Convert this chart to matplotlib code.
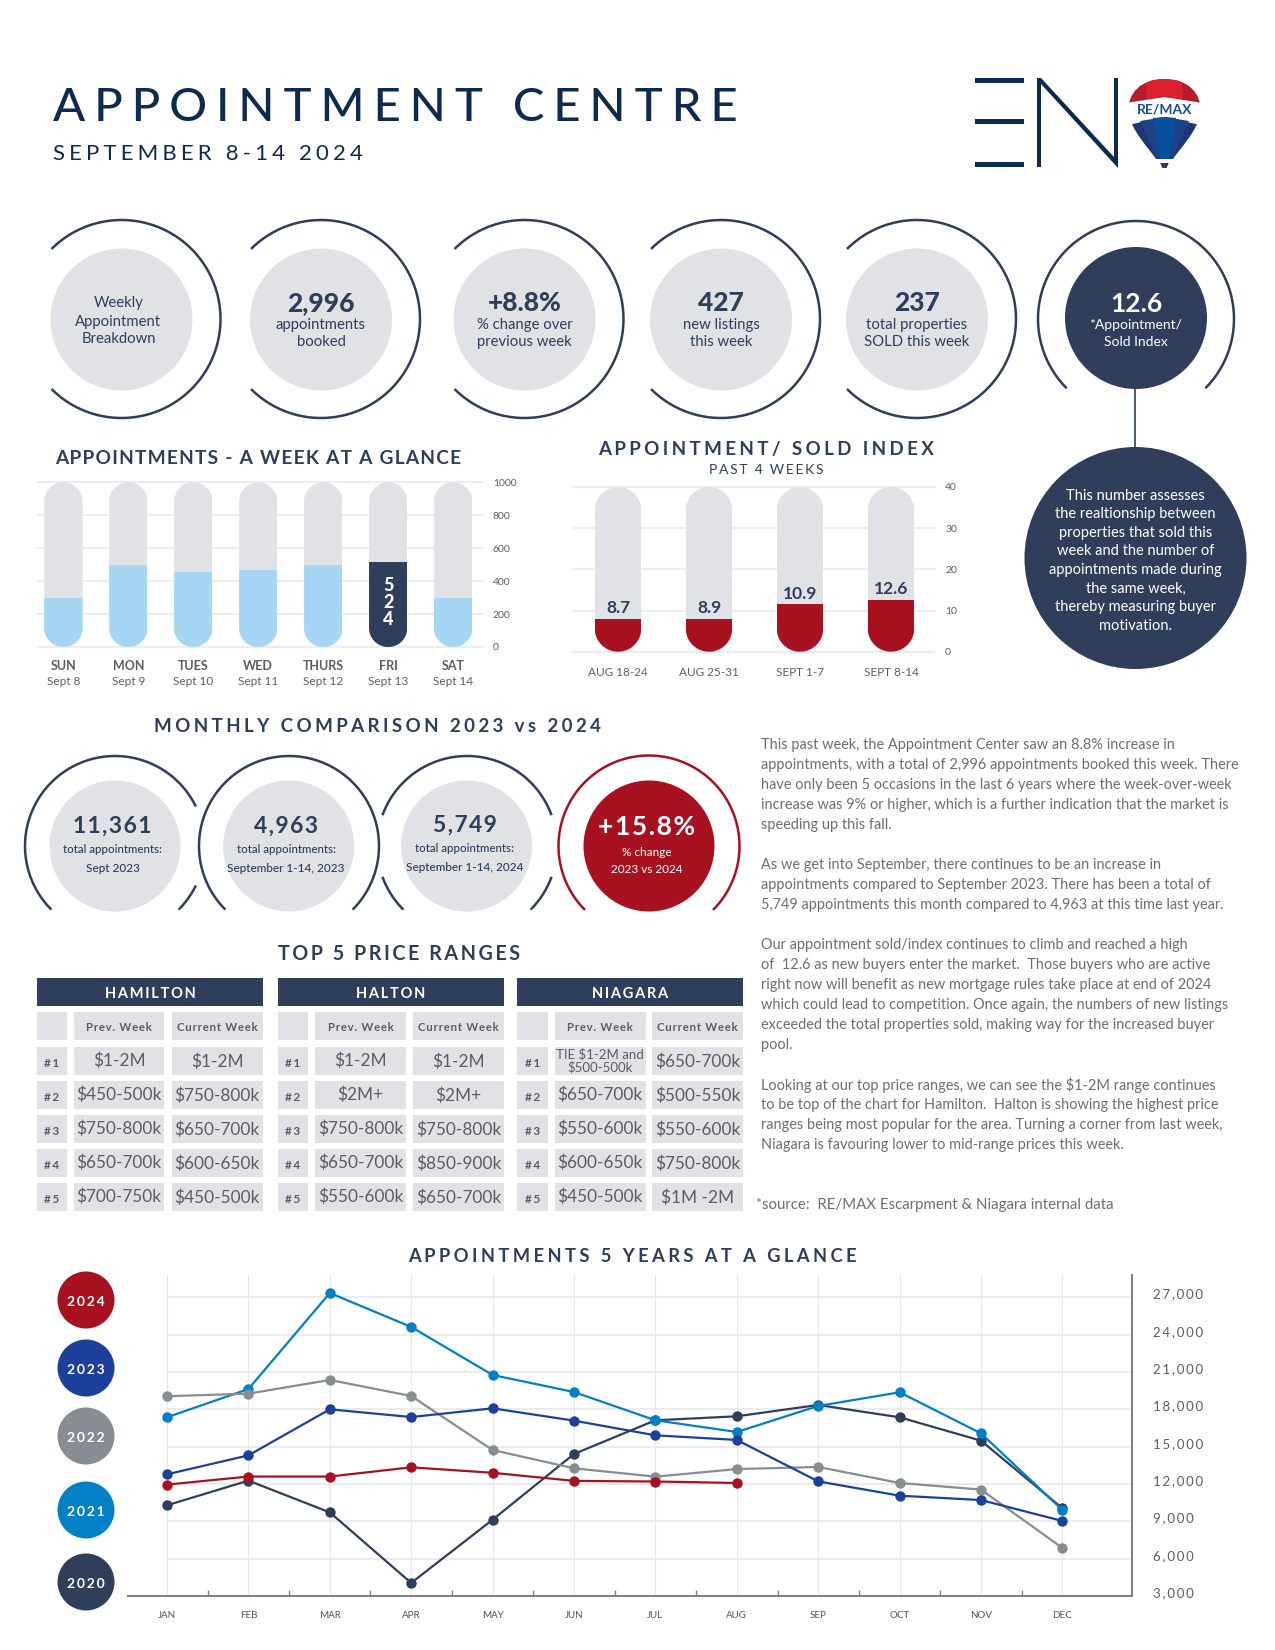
import matplotlib
matplotlib.use("Agg")
import matplotlib.pyplot as plt
import numpy as np
from matplotlib.patches import Circle, Rectangle, PathPatch, Polygon
from matplotlib.path import Path
from matplotlib.transforms import ScaledTranslation

plt.rcParams["font.family"] = ["Lato", "DejaVu Sans"]

W, H = 1275, 1650
DARK = "#2e3e5b"
NAVY = "#0e2a4f"
GREY = "#e1e2e6"
RED = "#a81220"
SKY = "#a5d7f4"
TXT = "#595e66"
BODY = "#6d6e71"
HAIR = "\u200a"

# DATA
week_days = ["SUN", "MON", "TUES", "WED", "THURS", "FRI", "SAT"]
week_dates = ["Sept 8", "Sept 9", "Sept 10", "Sept 11", "Sept 12", "Sept 13", "Sept 14"]
week_values = [295, 499, 455, 469, 499, 515, 295]

index_weeks = ["AUG 18-24", "AUG 25-31", "SEPT 1-7", "SEPT 8-14"]
index_heights = [8.0, 8.0, 11.5, 12.5]
index_labels = ["8.7", "8.9", "10.9", "12.6"]

months = ["JAN", "FEB", "MAR", "APR", "MAY", "JUN", "JUL", "AUG", "SEP", "OCT", "NOV", "DEC"]
y2020 = [10290, 12270, 9720, 4050, 9130, 14410, 17120, 17440, 18350, 17360, 15480, 10050]
y2021 = [17360, 19630, 27350, 24620, 20760, 19390, 17120, 16180, 18270, 19370, 16070, 9910]
y2022 = [19050, 19260, 20360, 19070, 14730, 13260, 12590, 13200, 13370, 12080, 11550, 6860]
y2023 = [12780, 14300, 18000, 17380, 18080, 17090, 15910, 15540, 12210, 11060, 10710, 9030]
y2024 = [11950, 12600, 12600, 13340, 12900, 12250, 12200, 12080]
year_ticks = [3000, 6000, 9000, 12000, 15000, 18000, 21000, 24000, 27000]

col_heads = ["Prev. Week", "Current Week"]
hamilton_prev = ["$1-2M", "$450-500k", "$750-800k", "$650-700k", "$700-750k"]
hamilton_curr = ["$1-2M", "$750-800k", "$650-700k", "$600-650k", "$450-500k"]
halton_prev = ["$1-2M", "$2M+", "$750-800k", "$650-700k", "$550-600k"]
halton_curr = ["$1-2M", "$2M+", "$750-800k", "$850-900k", "$650-700k"]
niagara_prev = ["TIE $1-2M and\n$500-500k", "$650-700k", "$550-600k", "$600-650k", "$450-500k"]
niagara_curr = ["$650-700k", "$500-550k", "$550-600k", "$750-800k", "$1M -2M"]

body_lines = [
    "This past week, the Appointment Center saw an 8.8% increase in",
    "appointments, with a total of 2,996 appointments booked this week. There",
    "have only been 5 occasions in the last 6 years where the week-over-week",
    "increase was 9% or higher, which is a further indication that the market is",
    "speeding up this fall.",
    "",
    "As we get into September, there continues to be an increase in",
    "appointments compared to September 2023. There has been a total of",
    "5,749 appointments this month compared to 4,963 at this time last year.",
    "",
    "Our appointment sold/index continues to climb and reached a high",
    "of  12.6 as new buyers enter the market.  Those buyers who are active",
    "right now will benefit as new mortgage rules take place at end of 2024",
    "which could lead to competition. Once again, the numbers of new listings",
    "exceeded the total properties sold, making way for the increased buyer",
    "pool.",
    "",
    "Looking at our top price ranges, we can see the $1-2M range continues",
    "to be top of the chart for Hamilton.  Halton is showing the highest price",
    "ranges being most popular for the area. Turning a corner from last week,",
    "Niagara is favouring lower to mid-range prices this week.",
]

info_lines = [
    "This number assesses", "the realtionship between", "properties that sold this",
    "week and the number of", "appointments made during", "the same week,",
    "thereby measuring buyer", "motivation.",
]

fig = plt.figure(figsize=(W / 100, H / 100), dpi=100, facecolor="white")
page = fig.add_axes([0, 0, 1, 1], zorder=0)
page.set_xlim(0, W)
page.set_ylim(H, 0)
page.axis("off")


def px_axes(left, top, right, bottom):
    ax = fig.add_axes([left / W, 1 - bottom / H, (right - left) / W, (bottom - top) / H], zorder=2)
    ax.patch.set_alpha(0)
    for s in ax.spines.values():
        s.set_visible(False)
    return ax


def sp(s, n=1):
    return (HAIR * n).join(s)


def label(x, y, s, size=10, color=DARK, weight="normal", ha="center"):
    page.text(x, y + 0.12 * size, s, fontsize=size, color=color, weight=weight, ha=ha, va="center")


def arc(cx, cy, r, a1, a2, color=DARK):
    t = np.radians(np.linspace(a1, a2, 200))
    page.plot(cx + r * np.cos(t), cy - r * np.sin(t), color=color, lw=1.8, solid_capstyle="butt")


def disc(cx, cy, r, color=GREY):
    page.add_patch(Circle((cx, cy), r, color=color, lw=0))


def pill(x, w, h, ry):
    t = np.linspace(0, np.pi, 40)
    top = np.column_stack([x + w / 2 * np.cos(t), h - ry + ry * np.sin(t)])
    bot = np.column_stack([x - w / 2 * np.cos(t), ry - ry * np.sin(t)])
    return Path(np.vstack([top, bot, top[:1]]))


# HEADER
label(53, 104, sp("APPOINTMENT CENTRE", 3), 34, NAVY, "medium", "left")
label(53, 152.5, sp("SEPTEMBER 8-14 2024", 3), 16, NAVY, "normal", "left")

# LOGO
for top in (78, 119, 162):
    page.add_patch(Rectangle((975, top), 49, 5, color=NAVY, lw=0))
page.add_patch(Polygon([(1037, 78), (1041, 78), (1114, 157), (1114, 78), (1118, 78), (1118, 168),
                        (1041, 84), (1041, 167), (1037, 167)], color=NAVY, lw=0))


def bx(pts):
    # balloon drawn around 1163, moved and widened a little to sit on the reference
    return [(1164.5 + (px - 1163) * 1.06, py) for px, py in pts]


balloon = Path(bx([(1163, 79), (1185, 79), (1198, 93), (1197, 112), (1195, 130), (1178, 148), (1171, 159),
                   (1155, 159), (1148, 148), (1131, 130), (1129, 112), (1128, 93), (1141, 79), (1163, 79), (1163, 79)]),
               [Path.MOVETO, Path.CURVE4, Path.CURVE4, Path.CURVE4, Path.CURVE4, Path.CURVE4, Path.CURVE4,
                Path.LINETO, Path.CURVE4, Path.CURVE4, Path.CURVE4, Path.CURVE4, Path.CURVE4, Path.CURVE4,
                Path.CLOSEPOLY])
clip = PathPatch(balloon, fc="white", ec="none")
page.add_patch(clip)
for pts, col in [
    ([(1120, 75), (1205, 75), (1205, 104), (1163, 97), (1120, 104)], "#b71c2c"),
    ([(1146, 75), (1180, 75), (1180, 99), (1163, 97), (1146, 99)], "#dc1f2e"),
    ([(1120, 127), (1163, 117), (1205, 127), (1205, 165), (1120, 165)], "#1f3576"),
    ([(1140, 121), (1163, 117), (1186, 121), (1170, 160), (1156, 160)], "#1c4288"),
    ([(1152, 118), (1163, 117), (1174, 118), (1167, 160), (1159, 160)], "#0a509f"),
]:
    p = Polygon(bx(pts), color=col, lw=0)
    page.add_patch(p)
    p.set_clip_path(clip)
label(1164.5, 108, "RE/MAX", 10, "#13509c", "bold")
page.add_patch(Polygon(bx([(1159, 163), (1167, 163), (1165, 168), (1161, 168)]), color=DARK, lw=0))

# TOP CIRCLES
for cx, head, l1, l2 in [
    (321, "2,996", "appointments", "booked"),
    (524.5, "+8.8%", "% change over", "previous week"),
    (721, "427", "new listings", "this week"),
    (917, "237", "total properties", "SOLD this week"),
]:
    arc(cx, 319, 99, -135, 135)
    disc(cx, 319.5, 71)
    label(cx, 301, head, 19, DARK, "black")
    label(cx, 324, l1, 10.7, DARK)
    label(cx, 341, l2, 10.7, DARK)
arc(121.5, 319, 99, -135, 135)
disc(121.5, 319.5, 71)
for y, s in zip((302, 321, 338), ("Weekly", "Appointment", "Breakdown")):
    label(118.5, y, s, 10.7, DARK)
arc(1136, 319, 98, -45, 225)
disc(1136, 318, 71, DARK)
label(1136, 302, "12.6", 19, "white", "bold")
label(1136, 324, "*Appointment/", 10, "white")
label(1136, 341, "Sold Index", 10, "white")
page.plot([1135, 1135], [389, 447], color=DARK, lw=1.2)
disc(1135.5, 558, 111, DARK)
for i, s in enumerate(info_lines):
    label(1135.5, 494.5 + i * 18.55, s, 10.5, "white")

# WEEK BARS
label(258, 457, sp("APPOINTMENTS - A WEEK AT A GLANCE", 1), 13.8, DARK, "bold")
ax = px_axes(37.8, 482.3, 483, 647)
x = np.arange(len(week_days))
ax.set_xlim(-0.394, 6.46)
ax.set_ylim(0, 1000)
ry = 19 * 1000 / 164.7
for i, v in enumerate(week_values):
    shape = pill(i, 0.589, 1000, ry)
    for r in ax.bar(i, 1000, 0.589, color=GREY, zorder=2):
        r.set_clip_path(shape, ax.transData)
    for r in ax.bar(i, v, 0.589, color=DARK if week_days[i] == "FRI" else SKY, zorder=3):
        r.set_clip_path(shape, ax.transData)
ax.yaxis.tick_right()
ax.set_yticks(range(0, 1001, 200))
ax.grid(axis="y", color="#ededef", lw=1.6, clip_on=False, zorder=1)
ax.set_axisbelow(True)
ax.tick_params(axis="y", length=0, pad=7, labelsize=7.5, labelcolor=TXT)
ax.set_xticks(x)
ax.set_xticklabels(week_days, fontsize=9, weight="bold", color=TXT)
ax.tick_params(axis="x", length=0, pad=9.5)
for i, d in enumerate(week_dates):
    ax.annotate(d, (i, 0), xytext=(0, -25), textcoords="offset points", ha="center", va="center",
                fontsize=8.5, color=TXT)
ax.text(5, 268, "5\n2\n4", color="white", weight="black", fontsize=13, ha="center", va="center",
        linespacing=1.0, zorder=5)

# INDEX BARS
label(766, 448, sp("APPOINTMENT/ SOLD INDEX", 3), 13.5, DARK, "bold")
label(766, 469, sp("PAST 4 WEEKS", 2), 10, DARK)
ax = px_axes(573, 487, 934, 651.7)
x = np.arange(len(index_weeks))
ax.set_xlim(-0.4945, 3.4725)
ax.set_ylim(0, 40)
ry = 23.25 * 40 / 164.7
for i, v in enumerate(index_heights):
    shape = pill(i, 0.511, 40, ry)
    for r in ax.bar(i, 40, 0.511, color=GREY, zorder=2):
        r.set_clip_path(shape, ax.transData)
    for r in ax.bar(i, v, 0.511, color=RED, zorder=3):
        r.set_clip_path(shape, ax.transData)
    ax.annotate(index_labels[i], (i, v), xytext=(0, 2), textcoords="offset points", ha="center", va="bottom",
                fontsize=12.5, weight="bold", color=DARK, zorder=5)
ax.yaxis.tick_right()
ax.set_yticks(range(0, 41, 10))
ax.grid(axis="y", color="#ededef", lw=1.6, clip_on=False, zorder=1)
ax.set_axisbelow(True)
ax.tick_params(axis="y", length=0, pad=8, labelsize=7.5, labelcolor=TXT)
ax.set_xticks(x)
ax.set_xticklabels(index_weeks, fontsize=8.5, color=TXT)
ax.tick_params(axis="x", length=0, pad=11)

# MONTHLY COMPARISON
label(378, 725, sp("MONTHLY COMPARISON 2023 vs 2024", 3), 13.5, DARK, "bold")
arc(115, 846, 90, 26, 225)
arc(115, 846, 90, -45, -26)
arc(289, 846, 90, -45, 225)
arc(467, 846, 90, 20, 160)
arc(467, 846, 90, 200, 225)
arc(467, 846, 90, -45, -20)
arc(649, 846, 90.5, -45, 225, RED)
for cx, col in [(115, GREY), (288.7, GREY), (466.5, GREY), (649, RED)]:
    disc(cx, 846, 65.5, col)
for cx, y0, head, l2 in [
    (112.5, 825, "11,361", "Sept 2023"),
    (286, 825, "4,963", "September 1-14, 2023"),
    (464.5, 824, "5,749", "September 1-14, 2024"),
]:
    label(cx, y0 - 1, sp(head, 1), 16.5, DARK, "bold")
    label(cx, y0 + 24, "total appointments:", 8.3, DARK, "medium")
    label(cx, y0 + 42, l2, 8.5, DARK, "medium")
label(647, 825, sp("+15.8%", 1), 19, "white", "bold")
label(647, 851, "% change", 8.5, "white")
label(647, 868, "2023 vs 2024", 8.5, "white")

# PRICE TABLES
label(399, 952, sp("TOP 5 PRICE RANGES", 2), 14.2, DARK, "bold")
row_tops = [1047, 1081, 1115, 1149, 1183]
for name, (x0, x1, x2, x3, x4, x5), prev, curr in [
    ("HAMILTON", (37, 67, 74, 164, 171.5, 263), hamilton_prev, hamilton_curr),
    ("HALTON", (278, 308, 315, 406, 413, 504), halton_prev, halton_curr),
    ("NIAGARA", (517, 548, 554.5, 646, 652, 743), niagara_prev, niagara_curr),
]:
    page.add_patch(Rectangle((x0, 978), x5 - x0, 28, color=DARK, lw=0))
    label((x0 + x5) / 2, 992.5, sp(name, 2), 10.5, "white", "bold")
    for left, right in [(x0, x1), (x2, x3), (x4, x5)]:
        page.add_patch(Rectangle((left, 1012), right - left, 28, color=GREY, lw=0))
    label((x2 + x3) / 2, 1026.5, sp(col_heads[0], 1), 8.2, TXT, "bold")
    label((x4 + x5) / 2, 1026.5, sp(col_heads[1], 1), 8.2, TXT, "bold")
    for i, top in enumerate(row_tops):
        for left, right in [(x0, x1), (x2, x3), (x4, x5)]:
            page.add_patch(Rectangle((left, top), right - left, 28, color=GREY, lw=0))
        label((x0 + x1) / 2, top + 15, sp(f"#{i + 1}", 2), 8.5, TXT, "bold")
        two_lines = "\n" in prev[i]
        page.text((x2 + x3) / 2, top + 14, prev[i], fontsize=9.5 if two_lines else 12.4, color=TXT, ha="center",
                  va="center", linespacing=1.05)
        label((x4 + x5) / 2, top + 13, curr[i], 12.4, TXT)

# BODY TEXT
for i, s in enumerate(body_lines):
    label(761, 744 + i * 20, s, 10.45, BODY, "normal", "left")
label(755, 1203, "*", 10, BODY, "normal", "left")
label(762.5, 1204, "source:  RE/MAX Escarpment & Niagara internal data", 10.8, BODY, "normal", "left")

# 5 YEAR LINES
label(632, 1255, sp("APPOINTMENTS 5 YEARS AT A GLANCE", 3), 13.2, DARK, "bold")
series = [
    (y2020, "2020", DARK, 1582),
    (y2021, "2021", "#0080c5", 1510),
    (y2022, "2022", "#878d92", 1436),
    (y2023, "2023", "#1c409c", 1368),
    (y2024, "2024", RED, 1300),
]
ax = px_axes(127.6, 1275, 1132, 1596)
ax.set_xlim(-0.484, 11.855)
ax.set_ylim(3000, 28794)
for vals, yr, col, legend_y in series:
    ax.plot(range(len(vals)), vals, color=col, lw=1.6, marker="o", ms=7.5, mew=0, zorder=4, clip_on=False)
    disc(86, legend_y, 28.5, col)
    label(86, legend_y + 1, sp(yr, 2), 10, "white", "bold")
ax.set_xticks(range(len(months)))
ax.set_xticklabels(months, fontsize=7, color=TXT, weight="medium")
ax.set_xticks(np.arange(0.5, 11), minor=True)
ax.tick_params(axis="x", which="major", length=0, pad=11)
ax.tick_params(axis="x", which="minor", direction="in", length=4, color="#808285", width=1)
ax.grid(axis="x", color="#e6e7e9", lw=0.8)
ax.hlines(year_ticks, 0, 11.855, color="#e6e7e9", lw=1.2, zorder=1)
ax.set_axisbelow(True)
ax.yaxis.tick_right()
ax.set_yticks(year_ticks)
ax.set_yticklabels([sp(f"{t:,}", 2) for t in year_ticks], fontsize=9.5, color=TXT)
ax.tick_params(axis="y", length=0, pad=15)
lift = ScaledTranslation(0, 4 / 100, fig.dpi_scale_trans)
for lab in ax.get_yticklabels():
    lab.set_transform(lab.get_transform() + lift)
for side in ("right", "bottom"):
    ax.spines[side].set_visible(True)
    ax.spines[side].set_color("#808285")
    ax.spines[side].set_linewidth(1.5)

fig.savefig("out.png", dpi=100)
